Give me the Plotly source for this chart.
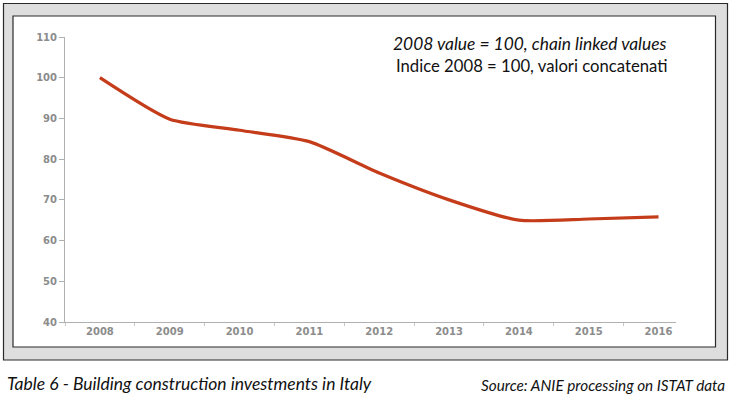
import plotly.graph_objects as go

years = ["2008", "2009", "2010", "2011", "2012", "2013", "2014", "2015", "2016"]
index_values = [100, 89.8, 87.1, 84.3, 76.6, 70.0, 65.0, 65.3, 65.8]
y_ticks = [40, 50, 60, 70, 80, 90, 100, 110]

W, H = 732, 397
L, R, T, B = 65, 676, 37, 322  # plot area pixels


def px(x):
    return (x - L) / (R - L)


def py(y):
    return (B - y) / (B - T)


fig = go.Figure()
fig.add_trace(go.Scatter(
    x=years, y=index_values, mode="lines",
    line=dict(color="#c43c1a", width=3.2, shape="spline", smoothing=0.6),
    hoverinfo="skip", showlegend=False,
))

shapes = [
    dict(type="rect", xref="paper", yref="paper", layer="below",
         x0=px(3.5), x1=px(727.5), y0=py(360), y1=py(3.5),
         fillcolor="#dedede", line=dict(color="#2a2a2a", width=1.2)),
    dict(type="rect", xref="paper", yref="paper", layer="below",
         x0=px(13), x1=px(715.5), y0=py(347), y1=py(16),
         fillcolor="#ffffff", line=dict(color="#2a2a2a", width=1.2)),
]

annotations = [
    dict(text="<i>2008 value = 100, chain linked values</i>", xref="paper", yref="paper",
         x=px(530), y=py(44), xanchor="center", yanchor="middle", showarrow=False,
         font=dict(family="Lato", size=17.4, color="#111111")),
    dict(text="Indice 2008 = 100, valori concatenati", xref="paper", yref="paper",
         x=px(532), y=py(66), xanchor="center", yanchor="middle", showarrow=False,
         font=dict(family="Lato", size=16.7, color="#111111")),
    dict(text="<i>Table 6 - Building construction investments in Italy</i>", xref="paper", yref="paper",
         x=px(5), y=py(383), xanchor="left", yanchor="middle", showarrow=False,
         font=dict(family="Lato", size=17.5, color="#111111")),
    dict(text="<i>Source: ANIE processing on ISTAT data</i>", xref="paper", yref="paper",
         x=px(727), y=py(385), xanchor="right", yanchor="middle", showarrow=False,
         font=dict(family="Lato", size=15.3, color="#111111")),
]

fig.update_layout(
    width=W, height=H,
    margin=dict(l=L, r=W - R, t=T, b=H - B, pad=0),
    paper_bgcolor="#ffffff", plot_bgcolor="#ffffff",
    shapes=shapes, annotations=annotations, showlegend=False,
    xaxis=dict(type="category", range=[-0.5, 8.25], showgrid=False, zeroline=False,
               showline=True, linecolor="#b0b0b0", linewidth=1,
               ticks="outside", tickson="boundaries", ticklen=3, tickcolor="#c8c8c8",
               tickfont=dict(family="DejaVu Sans", size=10, color="#8c8c8c", weight="bold"),
               fixedrange=True),
    yaxis=dict(range=[40, 110], tickvals=y_ticks, showgrid=False, zeroline=False,
               showline=True, linecolor="#b0b0b0", linewidth=1,
               ticks="outside", ticklen=5, tickcolor="#b0b0b0",
               tickfont=dict(family="DejaVu Sans", size=10, color="#8c8c8c", weight="bold"),
               fixedrange=True),
)

fig.write_html("out.html", config={"displayModeBar": False},
               post_script="document.body.style.margin='0';document.body.style.overflow='hidden';")
